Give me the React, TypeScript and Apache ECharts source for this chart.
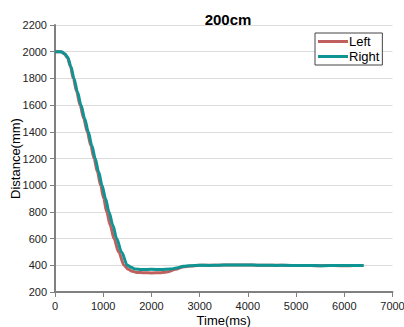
import React, { useEffect, useRef } from "react";
import * as echarts from "echarts";

const titleText = "200cm";

const leftTimes = [0, 80, 140, 200, 260, 320, 380, 450, 520, 595, 670, 740, 810, 880, 945, 1010, 1072, 1145, 1224, 1320, 1432, 1520, 1600, 1700, 1850, 2000, 2200, 2350, 2500, 2650, 2800, 3000, 3200, 3400, 3600, 3800, 4000, 4200, 4400, 4600, 4800, 5000, 5200, 5400, 5600, 5800, 6000, 6200, 6400];
const leftValues = [2000, 2000, 1997, 1982, 1955, 1890, 1800, 1700, 1600, 1500, 1400, 1300, 1200, 1100, 1000, 900, 800, 700, 600, 500, 400, 370, 355, 347, 344, 343, 345, 352, 370, 388, 395, 400, 400, 401, 403, 402, 403, 401, 400, 400, 399, 398, 399, 397, 398, 398, 397, 398, 398];

const rightTimes = [0, 80, 140, 200, 260, 330, 394, 465, 540, 615, 690, 762, 835, 905, 975, 1048, 1120, 1200, 1280, 1380, 1500, 1580, 1660, 1800, 2000, 2200, 2400, 2550, 2660, 2800, 3000, 3200, 3400, 3600, 3800, 4000, 4200, 4400, 4600, 4800, 5000, 5200, 5400, 5600, 5800, 6000, 6200, 6400];
const rightValues = [2000, 2000, 1998, 1985, 1960, 1890, 1800, 1700, 1600, 1500, 1400, 1300, 1200, 1100, 1000, 900, 800, 700, 600, 500, 400, 385, 372, 368, 370, 368, 372, 382, 392, 396, 400, 399, 401, 402, 403, 402, 401, 400, 399, 400, 398, 399, 398, 397, 399, 398, 398, 399];

const pair = (ts: number[], vs: number[]) => ts.map((t, i) => [t, vs[i]]);

export default function App() {
  const ref = useRef<HTMLDivElement>(null);
  useEffect(() => {
    if (!ref.current) return;
    const chart = echarts.init(ref.current, null, { renderer: "svg" });
    const font = "Liberation Sans";
    chart.setOption({
      animation: false,
      backgroundColor: "#ffffff",
      title: {
        text: titleText,
        left: 223,
        textAlign: "center",
        top: 7,
        textStyle: { fontFamily: font, fontSize: 15, fontWeight: "bold", color: "#000" },
      },
      legend: {
        left: 315,
        top: 33,
        orient: "vertical",
        icon: "rect",
        itemWidth: 30,
        itemHeight: 3,
        itemGap: 2,
        padding: [2, 3, 2, 3],
        borderColor: "#444",
        borderWidth: 1,
        backgroundColor: "#fff",
        textStyle: { fontFamily: font, fontSize: 13, color: "#000", padding: [0, 0, 0, -4] },
        data: ["Left", "Right"],
      },
      grid: { left: 55, right: 11.5, top: 25, bottom: 35, outerBoundsMode: "none" },
      xAxis: {
        type: "value",
        min: 0,
        max: 7000,
        interval: 1000,
        name: "Time(ms)",
        nameLocation: "middle",
        nameGap: 22,
        nameMoveOverlap: false,
        nameTextStyle: { fontFamily: font, fontSize: 13, color: "#000" },
        axisLine: { show: true, lineStyle: { color: "#808080", width: 2 } },
        axisTick: { show: true, length: 5, lineStyle: { color: "#808080", width: 1 } },
        axisLabel: {
          fontFamily: font,
          fontSize: 11,
          color: "#222",
          margin: 8,
          showMaxLabel: true,
          formatter: (v: number) => String(v),
        },
        splitLine: { show: false },
      },
      yAxis: {
        type: "value",
        min: 200,
        max: 2200,
        interval: 200,
        name: "Distance(mm)",
        nameLocation: "middle",
        nameGap: 33,
        nameMoveOverlap: false,
        nameTextStyle: { fontFamily: font, fontSize: 13, color: "#000" },
        axisLine: { show: true, lineStyle: { color: "#808080", width: 2 } },
        axisTick: { show: true, length: 5, lineStyle: { color: "#808080", width: 1 } },
        axisLabel: { fontFamily: font, fontSize: 11, color: "#222", margin: 8, formatter: (v: number) => String(v) },
        splitLine: { show: true, lineStyle: { color: "#dcdcdc", width: 1 } },
      },
      series: [
        {
          name: "Left",
          type: "line",
          data: pair(leftTimes, leftValues),
          showSymbol: false,
          smooth: 0.3,
          smoothMonotone: "x",
          itemStyle: { color: "#c0605e" },
          lineStyle: { color: "#c0605e", width: 3 },
        },
        {
          name: "Right",
          type: "line",
          data: pair(rightTimes, rightValues),
          showSymbol: false,
          smooth: 0.3,
          smoothMonotone: "x",
          itemStyle: { color: "#0f9494" },
          lineStyle: { color: "#0f9494", width: 3 },
        },
      ],
    });
    return () => chart.dispose();
  }, []);
  return (
    <div
      ref={ref}
      style={{ position: "fixed", left: 0, top: 0, width: 404, height: 327 }}
    />
  );
}
